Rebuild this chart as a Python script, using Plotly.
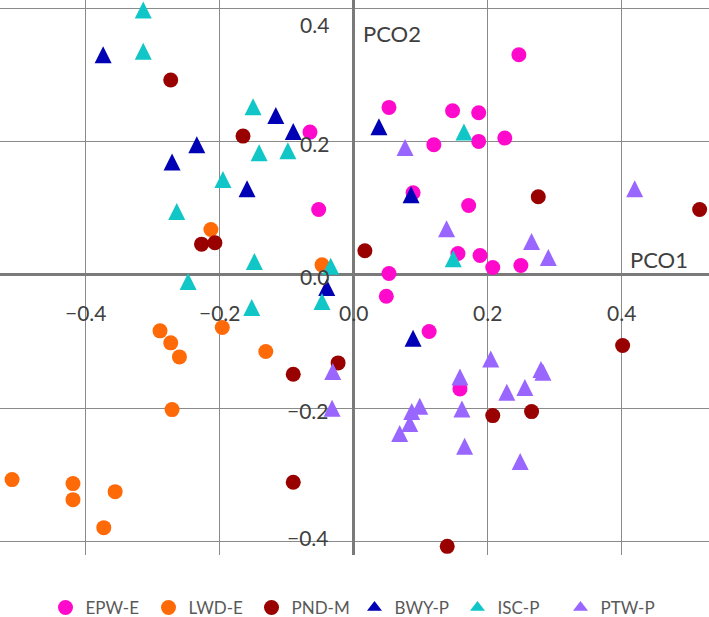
import plotly.graph_objects as go

# ---- data ----
groups = ["EPW-E", "LWD-E", "PND-M", "BWY-P", "ISC-P", "PTW-P"]

epw_x = [-0.065, -0.052, 0.247, 0.053, 0.148, 0.187, 0.120, 0.187, 0.226, 0.089, 0.172, 0.156, 0.189, 0.208, 0.250, 0.053, 0.049, 0.113, 0.159]
epw_y = [0.214, 0.098, 0.330, 0.251, 0.246, 0.243, 0.195, 0.200, 0.205, 0.123, 0.104, 0.032, 0.029, 0.011, 0.014, 0.002, -0.032, -0.085, -0.171]

lwd_x = [-0.213, -0.047, -0.289, -0.196, -0.273, -0.260, -0.131, -0.271, -0.510, -0.419, -0.419, -0.356, -0.373]
lwd_y = [0.068, 0.015, -0.084, -0.079, -0.102, -0.123, -0.115, -0.202, -0.307, -0.313, -0.337, -0.325, -0.379]

pnd_x = [-0.273, -0.165, -0.227, -0.207, 0.017, 0.276, 0.517, -0.023, -0.090, -0.090, 0.402, 0.208, 0.266, 0.140]
pnd_y = [0.292, 0.208, 0.046, 0.048, 0.036, 0.117, 0.098, -0.132, -0.149, -0.311, -0.106, -0.211, -0.205, -0.407]

bwy_x = [-0.374, -0.116, -0.090, -0.234, -0.271, -0.159, -0.040, 0.038, 0.086, 0.089]
bwy_y = [0.330, 0.239, 0.215, 0.195, 0.169, 0.129, -0.019, 0.222, 0.120, -0.095]

isc_x = [-0.314, -0.314, -0.150, -0.141, -0.098, -0.195, -0.264, -0.148, -0.034, -0.247, -0.047, -0.152, 0.165, 0.149]
isc_y = [0.397, 0.335, 0.252, 0.183, 0.186, 0.143, 0.095, 0.020, 0.013, -0.010, -0.040, -0.049, 0.214, 0.024]

ptw_x = [0.077, 0.420, 0.139, 0.266, 0.291, -0.031, -0.032, 0.205, 0.280, 0.283, 0.159, 0.229, 0.256, 0.099, 0.087, 0.162, 0.084, 0.069, 0.166, 0.249]
ptw_y = [0.191, 0.129, 0.069, 0.050, 0.026, -0.145, -0.200, -0.126, -0.142, -0.146, -0.153, -0.176, -0.169, -0.197, -0.205, -0.201, -0.223, -0.238, -0.257, -0.280]

tick_vals = [-0.4, -0.2, 0.0, 0.2, 0.4]
x_tick_text = ["\u22120.4", "\u22120.2", "0.0", "0.2", "0.4"]
y_tick_vals = [0.4, 0.2, 0.0, -0.2, -0.4]
y_tick_text = ["0.4", "0.2", "0.0", "\u22120.2", "\u22120.4"]

# ---- style ----
colors = ["#FF0ACC", "#FF6A08", "#990000", "#0000B4", "#10C6C6", "#9966FF"]
is_tri = [False, False, False, True, True, True]
series = [(epw_x, epw_y), (lwd_x, lwd_y), (pnd_x, pnd_y), (bwy_x, bwy_y), (isc_x, isc_y), (ptw_x, ptw_y)]

W, H = 709, 617
plot_h = 555
xr = [-0.528, 0.531]
yr = [-0.42, 0.412]
FONT = "Lato"
TXT = "#404040"
TRI = 17
CIRC = 15

# arrow-up symbols have their apex at the data point; a helper y-axis with a
# range offset by half the symbol height centres them on their values.
px_per_unit = plot_h / (yr[1] - yr[0])
d = (TRI / 2) / px_per_unit
yr_tri = [yr[0] - d, yr[1] - d]

fig = go.Figure()
for name, (xs, ys), c, tri in zip(groups, series, colors, is_tri):
    if tri:
        fig.add_trace(go.Scatter(
            x=xs, y=ys, mode="markers", name=name, legendgroup=name, showlegend=False,
            yaxis="y2",
            marker=dict(color=c, symbol="arrow-up", size=TRI, line=dict(width=0)),
        ))
        fig.add_trace(go.Scatter(
            x=[None], y=[None], mode="markers", name=name, legendgroup=name,
            marker=dict(color=c, symbol="triangle-up", size=13, line=dict(width=0)),
        ))
    else:
        fig.add_trace(go.Scatter(
            x=xs, y=ys, mode="markers", name=name, legendgroup=name,
            marker=dict(color=c, symbol="circle", size=CIRC, line=dict(width=0)),
        ))

def ypix(v):
    return (yr[1] - v) / (yr[1] - yr[0]) * plot_h

annotations = []
for v, t in zip(tick_vals, x_tick_text):
    annotations.append(dict(x=v, y=0, xref="x", yref="y", text=t, showarrow=False,
                            xanchor="center", yanchor="middle", yshift=-38,
                            font=dict(family=FONT, size=21, color=TXT)))
for v, t in zip(y_tick_vals, y_tick_text):
    p = ypix(v) + 2
    p_cl = min(max(p, 25), 537)
    annotations.append(dict(x=0, y=v, xref="x", yref="y", text=t, showarrow=False,
                            xanchor="right", yanchor="middle", xshift=-23,
                            yshift=-(p_cl - ypix(v)),
                            font=dict(family=FONT, size=21, color=TXT)))
annotations.append(dict(x=0, y=0.4, xref="x", yref="y", text="PCO2", showarrow=False,
                        xanchor="left", yanchor="middle", xshift=7, yshift=-25,
                        font=dict(family=FONT, size=22, color=TXT)))
annotations.append(dict(x=0.5, y=0, xref="x", yref="y", text="PCO1", showarrow=False,
                        xanchor="right", yanchor="middle", xshift=2, yshift=15,
                        font=dict(family=FONT, size=22, color=TXT)))

axis_common = dict(showgrid=True, gridcolor="#8a8a8a", gridwidth=1,
                   zeroline=True, zerolinecolor="#7a7a7a", zerolinewidth=2.5,
                   showticklabels=False, ticks="", showline=False, dtick=0.2, tick0=0)

fig.update_layout(
    width=W, height=H,
    margin=dict(l=0, r=0, t=0, b=0, autoexpand=False),
    paper_bgcolor="white", plot_bgcolor="white",
    hovermode=False,
    xaxis=dict(range=xr, **axis_common),
    yaxis=dict(range=yr, domain=[1 - plot_h / H, 1], **axis_common),
    yaxis2=dict(range=yr_tri, overlaying="y", showgrid=False, zeroline=False,
                showticklabels=False, ticks="", showline=False),
    showlegend=True,
    legend=dict(orientation="h", x=0.5, xanchor="center", y=(H - 608) / H, yanchor="middle",
                entrywidth=58, entrywidthmode="pixels", groupclick="toggleitem",
                font=dict(family=FONT, size=17, color="#595959"), bgcolor="rgba(0,0,0,0)"),
    annotations=annotations,
)

fig.write_html("out.html", config={"displayModeBar": False},
               post_script="document.body.style.margin='0';")
